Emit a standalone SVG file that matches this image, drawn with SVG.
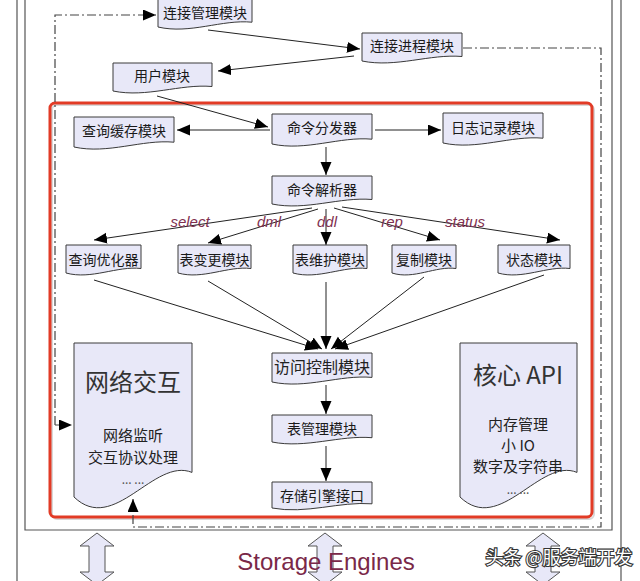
<svg xmlns="http://www.w3.org/2000/svg" width="640" height="581" viewBox="0 0 640 581">
<style>
.nd{fill:#e8e8f8;stroke:#3a3a3a;stroke-width:1}
.t{font-family:"Noto Sans CJK SC","Noto Sans",sans-serif;font-size:14px;fill:#1a1a1a;text-anchor:middle;dominant-baseline:central}
.tb{font-size:24px;fill:#333}
.tm{font-size:16px;fill:#222}
.ts{font-size:15px;fill:#222}
.dots{font-size:12px;fill:#555}
.c{fill:none;stroke:#222;stroke-width:1}
.dd{fill:none;stroke:#444;stroke-width:1.2;stroke-dasharray:9,3,2,3}
.lbl{font-family:"Liberation Sans",Arial,sans-serif;font-style:italic;font-size:15px;fill:#803050;text-anchor:middle}
.da{fill:#e8e8f8;stroke:#555;stroke-width:1}
</style>
<defs>
<marker id="ah" markerUnits="userSpaceOnUse" markerWidth="14" markerHeight="12" refX="13" refY="5.5" orient="auto">
<path d="M0,0 L13,5.5 L0,11 Z" fill="#000"/>
</marker>
</defs>
<rect width="640" height="581" fill="#fff"/>
<!-- frames -->
<g id="frames">
<path d="M17,-5 V590 M621,-5 V590" fill="none" stroke="#555" stroke-width="1.2"/>
<path d="M25,-5 V530 H612 V-5" fill="none" stroke="#555" stroke-width="1.2"/>
<rect x="52" y="105" width="542" height="414" rx="5" fill="none" stroke="#d8d8d8" stroke-width="2"/>
<rect x="50" y="103" width="542" height="414" rx="5" fill="none" stroke="#e23b26" stroke-width="3"/>
</g>
<!-- connectors -->
<g id="connectors">
<path class="dd" d="M55,425 V15 H156" marker-end="url(#ah)"/>
<path class="dd" d="M55,425 H72" marker-end="url(#ah)"/>
<path class="dd" d="M463,48 H601 V527 H133 V499" marker-end="url(#ah)"/>
<path class="c" d="M208,30 L360,49" marker-end="url(#ah)"/>
<path class="c" d="M354,56 L218,71" marker-end="url(#ah)"/>
<path class="c" d="M157,96 L268,127" marker-end="url(#ah)"/>
<path class="c" d="M270,130 L177,130" marker-end="url(#ah)"/>
<path class="c" d="M375,130 L441,130" marker-end="url(#ah)"/>
<path class="c" d="M326,147 L326,175" marker-end="url(#ah)"/>
<path class="c" d="M312,208 L94,240" marker-end="url(#ah)"/>
<path class="c" d="M318,209 L208,243" marker-end="url(#ah)"/>
<path class="c" d="M326,209 L326,245" marker-end="url(#ah)"/>
<path class="c" d="M334,208 L440,240" marker-end="url(#ah)"/>
<path class="c" d="M342,207 L560,240" marker-end="url(#ah)"/>
<path class="c" d="M94,280 L318,349" marker-end="url(#ah)"/>
<path class="c" d="M208,281 L322,349" marker-end="url(#ah)"/>
<path class="c" d="M326,282 L326,349" marker-end="url(#ah)"/>
<path class="c" d="M424,277 L331,349" marker-end="url(#ah)"/>
<path class="c" d="M544,275 L335,349" marker-end="url(#ah)"/>
<path class="c" d="M326,385 V414" marker-end="url(#ah)"/>
<path class="c" d="M326,446 V481" marker-end="url(#ah)"/>
<text class="lbl" x="190" y="227">select</text>
<text class="lbl" x="269" y="227">dml</text>
<text class="lbl" x="327" y="227">ddl</text>
<text class="lbl" x="392" y="227">rep</text>
<text class="lbl" x="465" y="227">status</text>
</g>
<!-- nodes -->
<g id="n-conn-mgr"><path class="nd" d="M158,-3 H252 V22.2 C222,19.2 190,34.5 158,27 Z"/><text class="t" x="205" y="12">连接管理模块</text></g>
<g id="n-conn-proc"><path class="nd" d="M362,33 H462 V56.5 C430,53.7 396,68 362,61 Z"/><text class="t" x="412" y="45">连接进程模块</text></g>
<g id="n-user"><path class="nd" d="M113,63 H212 V86.5 C180,83.7 147,98 113,91 Z"/><text class="t" x="162" y="75">用户模块</text></g>
<g id="n-qcache"><path class="nd" d="M74,117 H174 V142.2 C142,139.2 108,154.5 74,147 Z"/><text class="t" x="124" y="130">查询缓存模块</text></g>
<g id="n-dispatch"><path class="nd" d="M272,114 H372 V139.2 C340,136.2 306,151.5 272,144 Z"/><text class="t" x="322" y="127">命令分发器</text></g>
<g id="n-log"><path class="nd" d="M443,113 H543 V138.2 C511,135.2 477,150.5 443,143 Z"/><text class="t" x="493" y="127">日志记录模块</text></g>
<g id="n-parser"><path class="nd" d="M272,176 H372 V199.5 C340,196.7 306,211 272,204 Z"/><text class="t" x="322" y="189">命令解析器</text></g>
<g id="n-optimizer"><path class="nd" d="M66,245 H141 V268.5 C117,265.7 91.5,280 66,273 Z"/><text class="t" x="103.5" y="259">查询优化器</text></g>
<g id="n-tblchange"><path class="nd" d="M178,245 H251 V268.5 C227.6,265.7 202.8,280 178,273 Z"/><text class="t" x="214.5" y="259">表变更模块</text></g>
<g id="n-tblmaint"><path class="nd" d="M293,245 H367 V268.5 C343.3,265.7 318.2,280 293,273 Z"/><text class="t" x="330" y="259">表维护模块</text></g>
<g id="n-repl"><path class="nd" d="M392,245 H456 V268.5 C435.5,265.7 413.8,280 392,273 Z"/><text class="t" x="424" y="259">复制模块</text></g>
<g id="n-status"><path class="nd" d="M498,245 H570 V268.5 C547,265.7 522.5,280 498,273 Z"/><text class="t" x="534" y="259">状态模块</text></g>
<g id="n-access"><path class="nd" d="M272,353 H372 V377.4 C340,374.5 306,389.3 272,382 Z"/><text class="t tm" x="322" y="366">访问控制模块</text></g>
<g id="n-tblmgr"><path class="nd" d="M272,415 H372 V437.7 C340,435 306,448.75 272,442 Z"/><text class="t" x="322" y="428">表管理模块</text></g>
<g id="n-seif"><path class="nd" d="M272,482 H372 V503.8 C340,501.2 306,514.5 272,508 Z"/><text class="t" x="322" y="495">存储引擎接口</text></g>
<g id="n-net"><path class="nd" d="M74,343 H192 V472.4 C154,457 114,535.5 74,497 Z"/>
<text class="t tb" x="133" y="380">网络交互</text>
<text class="t ts" x="133" y="434">网络监听</text>
<text class="t ts" x="133" y="456">交互协议处理</text>
<text class="t dots" x="133" y="478">... ...</text></g>
<g id="n-core"><path class="nd" d="M460,343 H577 V472.4 C540,457 500,535.5 460,497 Z"/>
<text class="t tb" x="518" y="373">核心 API</text>
<text class="t ts" x="518" y="423">内存管理</text>
<text class="t ts" x="518" y="444">小 IO</text>
<text class="t ts" x="518" y="465">数字及字符串</text>
<text class="t dots" x="518" y="488">... ...</text></g>
<!-- bottom -->
<g id="storage">
<path class="da" d="M97,533 L114,546 H105 V572 H114 L97,585 L80,572 H89 V546 H80 Z"/>
<path class="da" d="M325,533 L342,546 H333 V572 H342 L325,585 L308,572 H317 V546 H308 Z"/>
<path class="da" d="M543,533 L560,546 H551 V572 H560 L543,585 L526,572 H535 V546 H526 Z"/>
<text x="326" y="570" font-family="Liberation Sans, Arial, sans-serif" font-size="24" fill="#7a2848" text-anchor="middle">Storage Engines</text>
<text x="559" y="564" font-family="Noto Sans CJK SC, sans-serif" font-size="18" fill="#fff" stroke="#333" stroke-width="2.2" paint-order="stroke" text-anchor="middle">头条 @服务端开发</text>
</g>
</svg>
